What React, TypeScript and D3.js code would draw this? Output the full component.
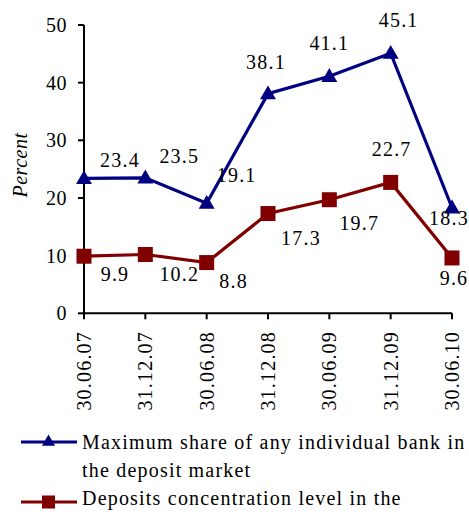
import React from "react";
import * as d3 from "d3";

const categories = ["30.06.07", "31.12.07", "30.06.08", "31.12.08", "30.06.09", "31.12.09", "30.06.10"];
const maxShare = [23.4, 23.5, 19.1, 38.1, 41.1, 45.1, 18.3];
const concentration = [9.9, 10.2, 8.8, 17.3, 19.7, 22.7, 9.6];
const yTicks = [0, 10, 20, 30, 40, 50];
const legendMax = ["Maximum share of any individual bank in", "the deposit market"];
const legendConc = ["Deposits concentration level in the"];

// label offsets (layout)
const maxLabelOffsets = [[36, -18], [34, -22], [30, -28], [-2, -32], [0, -33], [8, -33], [-3, 10]];
const concLabelOffsets = [[31, 18], [34, 20], [27, 18], [33, 24], [30, 23], [1, -33], [2, 20]];

const W = 469, H = 512;
const BLUE = "#000080";
const RED = "#800000";
const FONT = "Liberation Serif";

export default function App() {
  const x = d3.scalePoint<string>().domain(categories).range([84, 452]);
  const y = d3.scaleLinear().domain([0, 50]).range([313.3, 25]);
  const line = d3.line<number>().x((_, i) => x(categories[i])!).y((d) => y(d));
  const tri = d3.symbol().type(d3.symbolTriangle).size(110)()!;
  const sq = d3.symbol().type(d3.symbolSquare).size(225)()!;
  const triL = d3.symbol().type(d3.symbolTriangle).size(75)()!;
  const sqL = d3.symbol().type(d3.symbolSquare).size(170)()!;
  const ts = { fontFamily: FONT, fontSize: "20px", letterSpacing: "1.2px" };

  return (
    <svg
      width={W}
      height={H}
      style={{ position: "absolute", left: 0, top: 0, background: "#fff" }}
    >
      {/* y axis */}
      <line x1={84} x2={84} y1={y(50)} y2={y(0)} stroke="#000" strokeWidth={2} />
      {yTicks.map((t) => (
        <g key={t}>
          <line x1={78} x2={84} y1={y(t)} y2={y(t)} stroke="#000" strokeWidth={2} />
          <text x={67} y={y(t)} dy="0.35em" textAnchor="end" style={{ ...ts, letterSpacing: "0.5px" }} fill="#000">
            {t}
          </text>
        </g>
      ))}
      {/* x axis */}
      <line x1={84} x2={452} y1={y(0)} y2={y(0)} stroke="#000" strokeWidth={2} />
      {categories.map((c) => (
        <g key={c}>
          <line x1={x(c)!} x2={x(c)!} y1={y(0)} y2={y(0) + 6} stroke="#000" strokeWidth={2} />
          <text
            transform={`translate(${x(c)! + 7},${331}) rotate(-90)`}
            textAnchor="end"
            style={ts}
            fill="#000"
          >
            {c}
          </text>
        </g>
      ))}
      {/* y title */}
      <text
        transform={`translate(27,165) rotate(-90)`}
        textAnchor="middle"
        style={{ ...ts, fontStyle: "italic", letterSpacing: "0.5px" }}
        fill="#000"
      >
        Percent
      </text>
      {/* series */}
      <path d={line(maxShare)!} fill="none" stroke={BLUE} strokeWidth={3.2} />
      <path d={line(concentration)!} fill="none" stroke={RED} strokeWidth={3.2} />
      {concentration.map((v, i) => (
        <path key={"s" + i} d={sq} transform={`translate(${x(categories[i])},${y(v)})`} fill={RED} />
      ))}
      {maxShare.map((v, i) => (
        <path key={"t" + i} d={tri} transform={`translate(${x(categories[i])},${y(v) + 1})`} fill={BLUE} />
      ))}
      {maxShare.map((v, i) => (
        <text
          key={"lt" + i}
          x={x(categories[i])! + maxLabelOffsets[i][0]}
          y={y(v) + maxLabelOffsets[i][1]}
          dy="0.35em"
          textAnchor="middle"
          style={ts}
          fill="#000"
        >
          {v.toFixed(1)}
        </text>
      ))}
      {concentration.map((v, i) => (
        <text
          key={"ls" + i}
          x={x(categories[i])! + concLabelOffsets[i][0]}
          y={y(v) + concLabelOffsets[i][1]}
          dy="0.35em"
          textAnchor="middle"
          style={ts}
          fill="#000"
        >
          {v.toFixed(1)}
        </text>
      ))}
      {/* legend */}
      <line x1={21} x2={77} y1={442} y2={442} stroke={BLUE} strokeWidth={3.2} />
      <path d={triL} transform="translate(48.5,442)" fill={BLUE} />
      {legendMax.map((t, i) => (
        <text key={"lm" + i} x={82} y={449 + i * 28} style={ts} fill="#000">
          {t}
        </text>
      ))}
      <line x1={21} x2={77} y1={502} y2={502} stroke={RED} strokeWidth={3.2} />
      <path d={sqL} transform="translate(48.5,502)" fill={RED} />
      {legendConc.map((t, i) => (
        <text key={"lc" + i} x={82} y={505 + i * 28} style={ts} fill="#000">
          {t}
        </text>
      ))}
    </svg>
  );
}
